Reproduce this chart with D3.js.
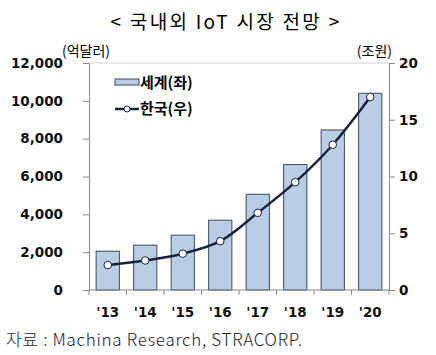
<!DOCTYPE html>
<html><head><meta charset="utf-8">
<script src="https://cdn.jsdelivr.net/npm/d3@7"></script>
<style>body{margin:0;background:#fff}</style>
</head><body><svg id="c" width="436" height="355"></svg>
<script>
const categories = ["'13","'14","'15","'16","'17","'18","'19","'20"];
const worldValues = [2050, 2370, 2900, 3690, 5060, 6630, 8460, 10400];
const koreaValues = [2.2, 2.6, 3.2, 4.3, 6.8, 9.5, 12.8, 17.0];
const leftTicks = [0, 2000, 4000, 6000, 8000, 10000, 12000];
const rightTicks = [0, 5, 10, 15, 20];

const svg = d3.select("#c");
const m = {l: 89, r: 389, t: 63, b: 290};
const x = d3.scaleBand().domain(categories).range([m.l, m.r]).paddingInner(0.38).paddingOuter(0.19);
const yL = d3.scaleLinear().domain([0, 12000]).range([m.b, m.t]);
const yR = d3.scaleLinear().domain([0, 20]).range([m.b, m.t]);
const fontNum = "'DejaVu Sans', Verdana, sans-serif";
const fontKr = "'Noto Sans CJK KR', sans-serif";

svg.append("text").attr("x", 226).attr("y", 29).attr("text-anchor", "middle")
  .attr("font-family", fontKr).attr("font-size", 19).attr("letter-spacing", 2.3).text("< 국내외 IoT 시장 전망 >");

// top border
svg.append("line").attr("x1", m.l).attr("x2", m.r).attr("y1", m.t).attr("y2", m.t).attr("stroke", "#d0d0d0");

// bars
svg.selectAll("rect.bar").data(worldValues).enter().append("rect").attr("class", "bar")
  .attr("x", (d, i) => x(categories[i])).attr("width", x.bandwidth())
  .attr("y", d => yL(d)).attr("height", d => m.b - yL(d))
  .attr("fill", "#b9cde5").attr("stroke", "#3b4a66").attr("stroke-width", 1);

// axes
const gL = svg.append("g").attr("transform", `translate(${m.l},0)`)
  .call(d3.axisLeft(yL).tickValues(leftTicks).tickSize(6).tickPadding(20).tickFormat(d3.format(",")));
const gR = svg.append("g").attr("transform", `translate(${m.r},0)`)
  .call(d3.axisRight(yR).tickValues(rightTicks).tickSize(6).tickPadding(4));
const gX = svg.append("g").attr("transform", `translate(0,${m.b})`)
  .call(d3.axisBottom(x).tickSize(0).tickPadding(17));
[gL, gR, gX].forEach(g => {
  g.select(".domain").attr("stroke", "#888");
  g.selectAll(".tick line").attr("stroke", "#888");
  g.selectAll("text").attr("font-family", fontNum).attr("font-weight", "bold").attr("font-size", 13.5).attr("fill", "#111");
});
gX.select(".domain").attr("d", `M${m.l},0H${m.r}`);
d3.range(categories.length + 1).forEach(i => {
  const xx = m.l + i * (m.r - m.l) / categories.length;
  svg.append("line").attr("x1", xx).attr("x2", xx).attr("y1", m.b).attr("y2", m.b + 5).attr("stroke", "#888");
});

// line
const pts = koreaValues.map((v, i) => [x(categories[i]) + x.bandwidth() / 2, yR(v)]);
svg.append("path").attr("d", d3.line().curve(d3.curveCatmullRom.alpha(0.5))(pts))
  .attr("fill", "none").attr("stroke", "#15233f").attr("stroke-width", 2.5);
svg.selectAll("circle.pt").data(pts).enter().append("circle").attr("class", "pt")
  .attr("cx", d => d[0]).attr("cy", d => d[1]).attr("r", 3.8)
  .attr("fill", "#fff").attr("stroke", "#15233f").attr("stroke-width", 1);

// units
svg.append("text").attr("x", 62).attr("y", 56).attr("font-family", fontKr).attr("font-size", 14).text("(억달러)");
svg.append("text").attr("x", 392).attr("y", 56).attr("text-anchor", "end").attr("font-family", fontKr).attr("font-size", 14).text("(조원)");

// legend
svg.append("rect").attr("x", 115).attr("y", 79).attr("width", 24).attr("height", 6)
  .attr("fill", "#b9cde5").attr("stroke", "#3b4a66");
svg.append("text").attr("x", 140).attr("y", 88).attr("font-family", fontKr).attr("font-weight", "bold").attr("font-size", 15).text("세계(좌)");
svg.append("line").attr("x1", 115).attr("x2", 139).attr("y1", 109).attr("y2", 109).attr("stroke", "#15233f").attr("stroke-width", 2.5);
svg.append("circle").attr("cx", 127).attr("cy", 109).attr("r", 3).attr("fill", "#fff").attr("stroke", "#15233f");
svg.append("text").attr("x", 140).attr("y", 114).attr("font-family", fontKr).attr("font-weight", "bold").attr("font-size", 15).text("한국(우)");

// source
svg.append("text").attr("x", 6).attr("y", 346).attr("font-family", fontKr).attr("font-weight", 300).attr("font-size", 17).attr("letter-spacing", 0.7).attr("fill", "#222")
  .text("자료 : Machina Research, STRACORP.");
</script></body></html>
